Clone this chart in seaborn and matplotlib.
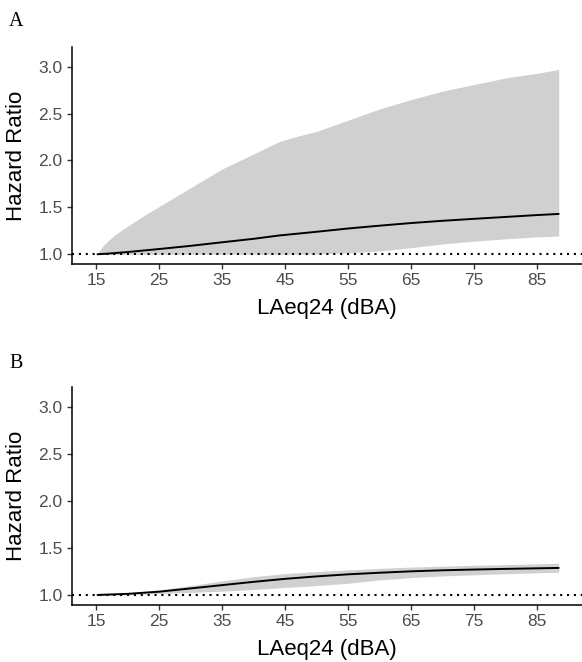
import matplotlib
matplotlib.use("Agg")
import matplotlib.pyplot as plt
import seaborn as sns
import numpy as np
import pandas as pd

# ---- data ----
lden_a = [15.2, 15.6, 16.2, 17, 18, 20, 22.5, 25, 30, 35, 40, 44, 47, 50, 55, 60, 65, 70, 75, 80, 85, 88.4]
hr_a = [1.0, 1.002, 1.004, 1.008, 1.013, 1.024, 1.04, 1.056, 1.09, 1.128, 1.165, 1.20, 1.22, 1.24, 1.275, 1.305, 1.333, 1.357, 1.378, 1.398, 1.418, 1.43]
upper_a = [1.0, 1.05, 1.10, 1.15, 1.21, 1.30, 1.41, 1.51, 1.71, 1.91, 2.07, 2.20, 2.26, 2.31, 2.43, 2.55, 2.65, 2.74, 2.81, 2.88, 2.93, 2.97]
lower_a = [1.0, 1.0, 1.0, 1.0, 1.0, 1.0, 1.0, 1.0, 1.0, 1.0, 1.0, 1.0, 1.0, 1.003, 1.015, 1.035, 1.07, 1.11, 1.14, 1.165, 1.185, 1.195]

lden_b = [15.2, 20, 25, 30, 35, 40, 45, 50, 55, 60, 65, 70, 75, 80, 85, 88.4]
hr_b = [1.0, 1.012, 1.035, 1.07, 1.105, 1.14, 1.172, 1.198, 1.22, 1.237, 1.252, 1.263, 1.271, 1.278, 1.284, 1.288]
upper_b = [1.0, 1.02, 1.055, 1.10, 1.15, 1.195, 1.228, 1.25, 1.267, 1.283, 1.297, 1.307, 1.316, 1.323, 1.331, 1.338]
lower_b = [1.0, 1.005, 1.015, 1.028, 1.04, 1.058, 1.08, 1.10, 1.125, 1.16, 1.185, 1.203, 1.215, 1.226, 1.236, 1.242]

xticks = [15, 25, 35, 45, 55, 65, 75, 85]
yticks = [1.0, 1.5, 2.0, 2.5, 3.0]
panel_labels = ["A", "B"]
xlabel = "LAeq24 (dBA)"
ylabel = "Hazard Ratio"

sns.set_style("ticks")
plt.rcParams["font.family"] = ["Liberation Sans", "DejaVu Sans"]

W, H = 582, 662
fig = plt.figure(figsize=(W / 100, H / 100), dpi=100)

def px_axes(left, top, right, bottom):
    return fig.add_axes([left / W, 1 - bottom / H, (right - left) / W, (bottom - top) / H])

ax_a = px_axes(71.7, 46.7, 582, 264.3)
ax_b = px_axes(71.7, 387.3, 582, 605.0)

panels = [
    (ax_a, lden_a, hr_a, upper_a, lower_a, 21.5),
    (ax_b, lden_b, hr_b, upper_b, lower_b, 363.0),
]

for (ax, x, hr, up, lo, lab_y), lab in zip(panels, panel_labels):
    df = pd.DataFrame({"x": x, "hr": hr, "up": up, "lo": lo})
    ax.fill_between(df["x"], df["lo"], df["up"], color="#D0D0D0", linewidth=0, zorder=1)
    ax.axhline(1.0, color="black", linestyle=(0, (1, 2.3)), linewidth=1.5, zorder=2)
    sns.lineplot(data=df, x="x", y="hr", ax=ax, color="black", linewidth=1.4, zorder=3)
    ax.set_xlim(11.1, 92.1)
    ax.set_ylim(0.893, 3.213)
    ax.set_xticks(xticks)
    ax.set_xticklabels([str(t) for t in xticks])
    ax.set_yticks(yticks)
    ax.set_yticklabels([f"{t:.1f}" for t in yticks])
    ax.tick_params(axis="both", length=3.5, width=1.0, color="#333333",
                   labelsize=12.5, labelcolor="#4D4D4D", pad=3)
    for s in ["top", "right"]:
        ax.spines[s].set_visible(False)
    for s in ["left", "bottom"]:
        ax.spines[s].set_linewidth(1.1)
        ax.spines[s].set_color("black")
    ax.set_xlabel(xlabel, fontsize=16, color="black")
    ax.set_ylabel(ylabel, fontsize=16, color="black")
    ax.xaxis.set_label_coords(0.5, -0.155)
    ax.yaxis.set_label_coords(-0.088, 0.5)
    ax.grid(False)
    fig.text(9 / W, 1 - lab_y / H, lab, fontsize=14.5, family="Liberation Serif",
             ha="left", va="center", color="black")

fig.savefig("out.png", dpi=100)
